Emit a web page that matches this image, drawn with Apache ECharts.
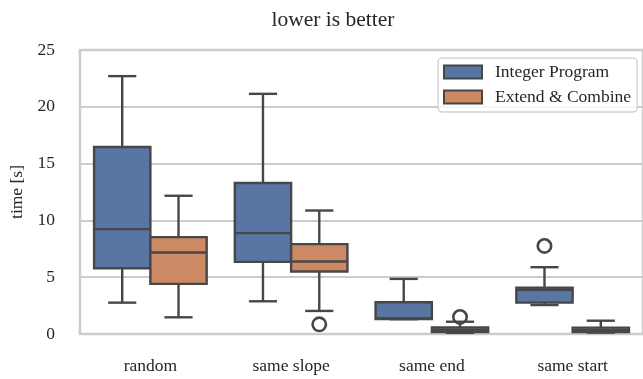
<!DOCTYPE html>
<html>
<head>
<meta charset="utf-8">
<script src="https://cdn.jsdelivr.net/npm/echarts@6/dist/echarts.min.js"></script>
<style>
  html, body { margin: 0; padding: 0; background: #fff; }
  #chart { width: 643px; height: 379px; }
</style>
</head>
<body>
<div id="chart"></div>
<script>
// Run-time comparison per instance type: whisker low, Q1, median, Q3, whisker high
const categories = ['random', 'same slope', 'same end', 'same start'];
const yTicks = [0, 5, 10, 15, 20, 25];

const integerProgram = [
  [2.76, 5.79, 9.23, 16.46, 22.7],
  [2.88, 6.35, 8.88, 13.29, 21.14],
  [1.30, 1.32, 1.38, 2.80, 4.85],
  [2.55, 2.76, 3.90, 4.08, 5.88]
];
const extendCombine = [
  [1.47, 4.41, 7.17, 8.53, 12.17],
  [2.03, 5.50, 6.38, 7.91, 10.87],
  [0.10, 0.18, 0.35, 0.57, 1.08],
  [0.12, 0.18, 0.35, 0.56, 1.17]
];
// Outliers: [category index, value]
const integerProgramOutliers = [[3, 7.75]];
const extendCombineOutliers = [[1, 0.85], [2, 1.5]];

const seriesNames = ['Integer Program', 'Extend & Combine'];
const fills = ['#5875a4', '#cc8963'];
const edge = '#474747';
const serif = '"Liberation Serif", "DejaVu Serif", serif';
const textColor = '#262626';
const fontSize = 17.5;
const strokeWidth = 2.4;

function boxRows(stats) {
  return stats.map((s, i) => [i].concat(s));
}

// Draws one box per category, shifted within the band by `shift` (fraction of band width)
function boxRenderer(shift) {
  return function (params, api) {
    const band = api.size([1, 0])[0];
    const half = band * 0.2;
    const cap = half / 2;
    const cat = api.value(0);
    const cx = api.coord([cat, 0])[0] + shift * band;
    const py = k => api.coord([cat, api.value(k)])[1];
    const yLo = py(1), yQ1 = py(2), yMed = py(3), yQ3 = py(4), yHi = py(5);
    const ls = { stroke: edge, lineWidth: strokeWidth };
    return {
      type: 'group',
      children: [
        { type: 'line', shape: { x1: cx, y1: yQ3, x2: cx, y2: yHi }, style: ls },
        { type: 'line', shape: { x1: cx, y1: yQ1, x2: cx, y2: yLo }, style: ls },
        { type: 'line', shape: { x1: cx - cap, y1: yHi, x2: cx + cap, y2: yHi }, style: ls },
        { type: 'line', shape: { x1: cx - cap, y1: yLo, x2: cx + cap, y2: yLo }, style: ls },
        { type: 'rect', shape: { x: cx - half, y: yQ3, width: 2 * half, height: yQ1 - yQ3 },
          style: { fill: api.visual('color'), stroke: edge, lineWidth: strokeWidth } },
        { type: 'line', shape: { x1: cx - half, y1: yMed, x2: cx + half, y2: yMed }, style: ls }
      ]
    };
  };
}

function outlierRenderer(shift) {
  return function (params, api) {
    const band = api.size([1, 0])[0];
    const p = api.coord([api.value(0), api.value(1)]);
    return {
      type: 'circle',
      shape: { cx: p[0] + shift * band, cy: p[1], r: 6.7 },
      style: { fill: 'none', stroke: edge, lineWidth: 2.6 }
    };
  };
}

const chart = echarts.init(document.getElementById('chart'), null, { renderer: 'canvas' });

chart.setOption({
  backgroundColor: '#ffffff',
  animation: false,
  title: {
    text: 'lower is better',
    left: 328,
    top: 4,
    textAlign: 'center',
    textStyle: { fontFamily: serif, fontSize: 21.5, fontWeight: 'normal', color: textColor }
  },
  legend: {
    data: seriesNames.map(n => ({ name: n, icon: 'rect' })),
    orient: 'vertical',
    left: 438,
    top: 58,
    padding: [5, 6, 6, 5],
    itemWidth: 38,
    itemHeight: 13,
    itemGap: 7,
    borderColor: '#d4d4d4',
    borderWidth: 1.5,
    borderRadius: 4,
    backgroundColor: 'rgba(255,255,255,0.8)',
    itemStyle: { borderColor: edge, borderWidth: 2 },
    textStyle: { fontFamily: serif, fontSize: fontSize, color: textColor, padding: [0, 0, 0, 8] }
  },
  grid: {
    show: true,
    left: 80,
    top: 50,
    width: 568,
    height: 284,
    borderColor: '#cccccc',
    borderWidth: 2.5,
    backgroundColor: 'transparent'
  },
  xAxis: {
    type: 'category',
    data: categories,
    axisLine: { show: false },
    axisTick: { show: false },
    splitLine: { show: false },
    axisLabel: { fontFamily: serif, fontSize: fontSize, color: textColor, margin: 23 }
  },
  yAxis: {
    type: 'value',
    min: yTicks[0],
    max: yTicks[yTicks.length - 1],
    interval: 5,
    name: 'time [s]',
    nameLocation: 'middle',
    nameGap: 54,
    nameTextStyle: { fontFamily: serif, fontSize: fontSize, color: textColor },
    axisLine: { show: false },
    axisTick: { show: false },
    splitLine: { lineStyle: { color: '#cccccc', width: 2 } },
    axisLabel: { fontFamily: serif, fontSize: fontSize, color: textColor, margin: 25 }
  },
  series: [
    {
      name: seriesNames[0],
      type: 'custom',
      renderItem: boxRenderer(-0.2),
      itemStyle: { color: fills[0] },
      encode: { x: 0, y: [1, 2, 3, 4, 5] },
      data: boxRows(integerProgram),
      z: 2
    },
    {
      name: seriesNames[1],
      type: 'custom',
      renderItem: boxRenderer(0.2),
      itemStyle: { color: fills[1] },
      encode: { x: 0, y: [1, 2, 3, 4, 5] },
      data: boxRows(extendCombine),
      z: 2
    },
    {
      name: seriesNames[0],
      type: 'custom',
      renderItem: outlierRenderer(-0.2),
      itemStyle: { color: fills[0] },
      encode: { x: 0, y: 1 },
      data: integerProgramOutliers,
      z: 3
    },
    {
      name: seriesNames[1],
      type: 'custom',
      renderItem: outlierRenderer(0.2),
      itemStyle: { color: fills[1] },
      encode: { x: 0, y: 1 },
      data: extendCombineOutliers,
      z: 3
    }
  ]
});
</script>
</body>
</html>
